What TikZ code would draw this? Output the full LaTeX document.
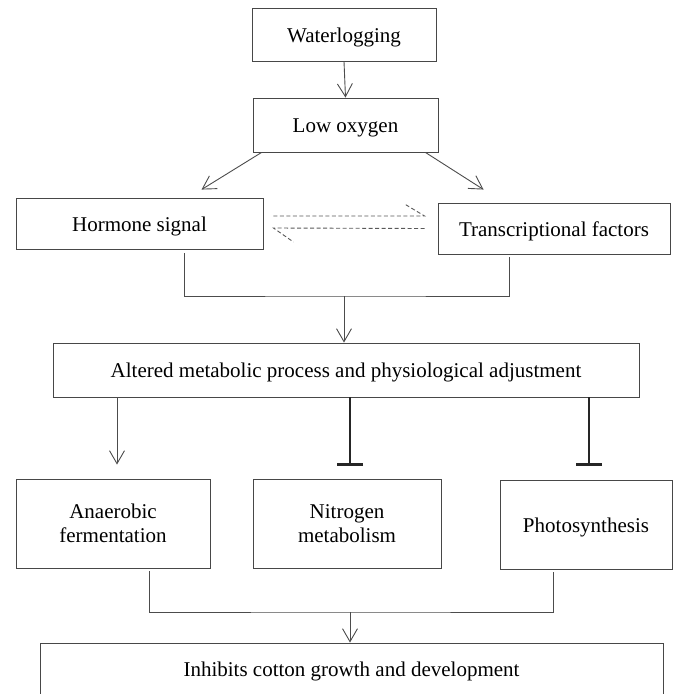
\documentclass[tikz,border=0pt]{standalone}
\usepackage{fontspec}
\setmainfont{Liberation Serif}
\usepackage{tikz}
\usetikzlibrary{arrows.meta, positioning, calc}

\begin{document}
\begin{tikzpicture}[
  x=1pt, y=-1pt,
  font=\fontsize{21}{24.5}\selectfont,
  box/.style={draw=black!72, line width=0.9pt, align=center, inner sep=2pt},
  onebox/.style={box, text height=15pt, text depth=0pt},
  line/.style={draw=black!70, line width=0.9pt},
  arr/.style={line, -{Straight Barb[length=13pt, width=15pt, line width=0.9pt]}},
  inh/.style={draw=black!85, line width=2.6pt, -{Bar[width=26pt, line width=2.6pt]}},
  dline/.style={draw=black!65, line width=0.9pt, dash pattern=on 4pt off 2.5pt}
]
\useasboundingbox (0,0) rectangle (673,694);
\clip (0,0) rectangle (673,694);

\node[onebox, minimum width=184pt, minimum height=53pt] (wl) at (344,34.5) {Waterlogging};
\node[onebox, minimum width=185pt, minimum height=54pt] (lo) at (345.5,125) {Low oxygen};

\node[onebox, minimum width=247pt, minimum height=51pt] (hs) at (139.5,223.5) {Hormone signal};
\node[onebox, minimum width=232pt, minimum height=51pt] (tf) at (554,228.5) {Transcriptional factors};

\node[onebox, minimum width=586pt, minimum height=54pt] (am) at (346,370)
  {Altered metabolic process and physiological adjustment};

\node[box, minimum width=194pt, minimum height=89pt] (af) at (113,523.5) {Anaerobic\\fermentation};
\node[box, minimum width=188pt, minimum height=89pt] (nm) at (347,523.5) {Nitrogen\\metabolism};
\node[onebox, minimum width=172pt, minimum height=89pt] (ps) at (586,524.5) {Photosynthesis};

\node[onebox, minimum width=623pt, minimum height=52pt] (ib) at (351.5,669)
  {Inhibits cotton growth and development};

\coordinate (bus1) at (344,296);
\coordinate (bus2) at (350,612);

\draw[arr] (wl.south) -- (lo.north);
\draw[arr] ([xshift=9pt]lo.south west) -- ([xshift=186pt,yshift=8pt]hs.north west);
\draw[arr] ([xshift=-13pt]lo.south east) -- ([xshift=46pt,yshift=13pt]tf.north west);

\draw[dline] ([xshift=10pt,yshift=7.5pt]hs.east) -- ([xshift=-13pt,yshift=12.5pt]tf.west)
  -- ++(-20pt,12pt);
\draw[dline] ([xshift=-13pt]tf.west) -- ([xshift=10pt,yshift=-4.5pt]hs.east)
  -- ++(20pt,-14pt);

\draw[line] ([xshift=44.5pt,yshift=-4pt]hs.south) |- (bus1) -| ([xshift=-45pt,yshift=-3pt]tf.south);
\draw[arr] (bus1) -- (bus1 |- am.north);

\draw[arr] ([xshift=4pt]af.north |- am.south) -- ([xshift=4pt,yshift=14pt]af.north);
\draw[inh] ([xshift=3pt]nm.north |- am.south) -- ([xshift=3pt,yshift=13pt]nm.north);
\draw[inh] ([xshift=3pt]ps.north |- am.south) -- ([xshift=3pt,yshift=14pt]ps.north);

\draw[line] ([xshift=36pt,yshift=-3pt]af.south) |- (bus2) -| ([xshift=-33pt,yshift=-3pt]ps.south);
\draw[arr] (bus2) -- (bus2 |- ib.north);

\end{tikzpicture}
\end{document}
